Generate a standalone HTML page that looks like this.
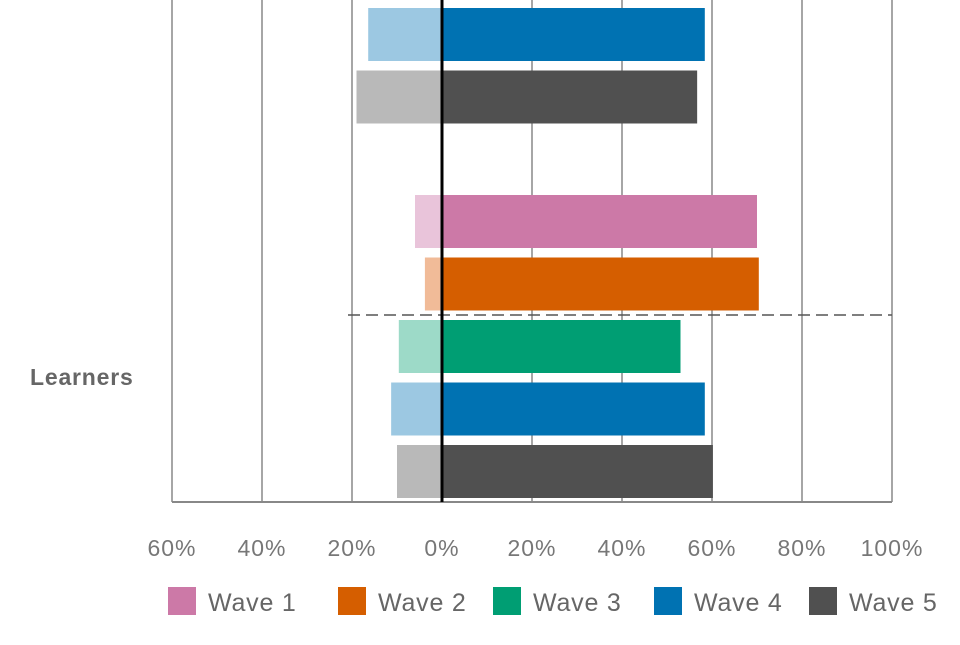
<!DOCTYPE html>
<html><head><meta charset="utf-8"><style>
body{margin:0;background:#fff;width:960px;height:640px;overflow:hidden;font-family:"Liberation Sans",sans-serif}
</style></head><body>
<svg id="chart" width="960" height="640"></svg>
<script>
const ticks=["60%","40%","20%","0%","20%","40%","60%","80%","100%"];
const tickValues=[-60,-40,-20,0,20,40,60,80,100];
const waves=["Wave 1","Wave 2","Wave 3","Wave 4","Wave 5"];
const topWaves=[3,4];
const topNeg=[-16.4,-19];
const topPos=[58.4,56.7];
const learnerWaves=[0,1,2,3,4];
const learnerNeg=[-6,-3.8,-9.6,-11.3,-10];
const learnerPos=[70,70.4,53,58.4,60.2];
const dark=["#cc79a7","#d55e00","#009e73","#0072b2","#505050"];
const light=["#e9c4da","#f1bb98","#9ddac8","#9cc8e2","#b9b9b9"];
const NS="http://www.w3.org/2000/svg";
const svg=document.getElementById('chart');
const x=v=>442+v*4.5;
function el(t,a){const e=document.createElementNS(NS,t);for(const k in a)e.setAttribute(k,a[k]);svg.appendChild(e);return e;}
tickValues.forEach((v,i)=>{
 const g=el('line',{x1:x(v),x2:x(v),y1:0,y2:502,stroke:'#888','stroke-width':1.5});
 
 
 const t=el('text',{x:x(v),y:556,'text-anchor':'middle','font-size':23,'letter-spacing':1,fill:'#777'});
 t.textContent=ticks[i];
 
 
});
const ax=el('line',{x1:172,x2:892,y1:502,y2:502,stroke:'#888','stroke-width':2});


function bars(ws,neg,pos,y0){
 ws.forEach((w,i)=>{
  const y=y0+i*62.5;
  const n=el('rect',{x:x(neg[i]),y:y,width:x(0)-x(neg[i]),height:53,fill:light[w]});
  
  
  const p=el('rect',{x:x(0),y:y,width:x(pos[i])-x(0),height:53,fill:dark[w]});
  
  
 });
}
bars(topWaves,topNeg,topPos,8);
bars(learnerWaves,learnerNeg,learnerPos,195);
const d=el('line',{x1:348,x2:892,y1:315,y2:315,stroke:'#555','stroke-width':1.5,'stroke-dasharray':'12,6'});


const z=el('line',{x1:442,x2:442,y1:0,y2:502,stroke:'#000','stroke-width':3});


const lb=el('text',{x:30,y:385,'font-size':23,'font-weight':'bold','letter-spacing':0.8,fill:'#666'});
lb.textContent='Learners';


const lx=[168,338,493,654,809];
waves.forEach((w,i)=>{
 const r=el('rect',{x:lx[i],y:587,width:28,height:28,fill:dark[i]});
 
 
 const t=el('text',{x:lx[i]+40,y:611,'font-size':25,'letter-spacing':0.8,fill:'#666'});
 t.textContent=w;
 
 
});
</script>
</body></html>
